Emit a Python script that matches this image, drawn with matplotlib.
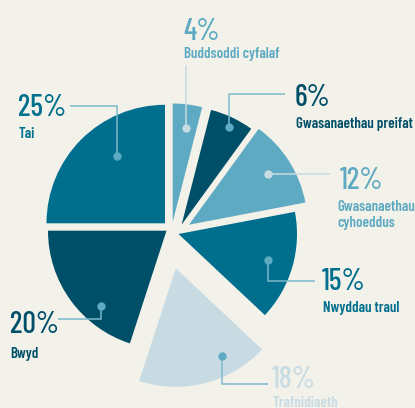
import numpy as np
import matplotlib
matplotlib.use('Agg')
import matplotlib.pyplot as plt
from matplotlib import font_manager

# data
shares = [4, 6, 12, 15, 18, 20, 25]
pct_labels = ['4%', '6%', '12%', '15%', '18%', '20%', '25%']
names = ['Buddsoddi cyfalaf', 'Gwasanaethau preifat', 'Gwasanaethau\ncyhoeddus',
         'Nwyddau traul', 'Trafnidiaeth', 'Bwyd', 'Tai']

# colours
bg = '#f3f2ea'
light = '#5eaac2'
dark = '#004f68'
mid = '#006f8d'
pale = '#c8dbe3'
leader = '#7db8cc'
slice_colors = [light, dark, light, mid, pale, dark, mid]
dot_colors = [pale, light, pale, light, light, light, light]
line_colors = [pale, leader, pale, leader, leader, leader, leader]

# layout, in image pixels (y measured downwards)
W, H = 415, 408
pie_center = (170, 227)
pie_radius = 118.5
slice_shift = [(2.7, -5), (11.6, -2.3), (19, -2.3), (8.5, 7), (5.8, 41.3), (-3.5, 3.7), (-5, -3.7)]
dot_pos = [(81.9, 95), (64.1, 108.6), (32.7, 93.9), (-16.2, 93.2), (-62.2, 99.1), (-131, 99.8), (125.5, 82.7)]
elbow_y = [65, 94, None, 281, 384, 319, 106]
end_x = [None, 285, 330, 315, 268, 58, 70]
pct_xy = [(183.5, 40), (295, 106), (340, 189), (321.5, 290), (271.5, 388.3), (10, 333.3), (18, 116.5)]
name_xy = [(183.5, 58.3), (296, 128.3), (337.5, 211), (322.5, 311.7), (273, 407), (10.5, 357.7), (18.5, 138.3)]
name_gap = 15.7

available = {f.name for f in font_manager.fontManager.ttflist}
family = 'DejaVu Sans'
for cand in ['Barlow Condensed', 'Roboto Condensed', 'Archivo Narrow', 'Asap Condensed']:
    if cand in available:
        family = cand
        break

fig = plt.figure(figsize=(W / 100, H / 100), dpi=100, facecolor=bg)
ax = fig.add_axes([0, 0, 1, 1])
ax.set_facecolor(bg)

cx, cy = pie_center[0], H - pie_center[1]
wedges, _ = ax.pie(shares, colors=slice_colors, startangle=90, counterclock=False,
                   radius=pie_radius, center=(cx, cy), wedgeprops=dict(linewidth=0))

for i, w in enumerate(wedges):
    dx, dy = slice_shift[i]
    w.set_center((cx + dx, cy - dy))
    vx, vy = cx + dx, cy - dy

    # dot inside the slice and its leader line
    ang, dist = dot_pos[i]
    px = vx + dist * np.cos(np.radians(ang))
    py = vy + dist * np.sin(np.radians(ang))
    xs, ys = [px], [py]
    if elbow_y[i] is not None:
        xs.append(px)
        ys.append(H - elbow_y[i])
    if end_x[i] is not None:
        xs.append(end_x[i])
        ys.append(ys[-1])
    ax.plot(xs, ys, color=line_colors[i], lw=1.1, solid_capstyle='butt', zorder=3)
    ax.plot(px, py, 'o', ms=6, color=dot_colors[i], mec='none', zorder=4)

    # labels
    ax.text(pct_xy[i][0], H - pct_xy[i][1], pct_labels[i], fontsize=21.5, family=family,
            weight='medium', color=slice_colors[i], ha='left', va='baseline')
    for j, line in enumerate(names[i].split('\n')):
        ax.text(name_xy[i][0], H - name_xy[i][1] - j * name_gap, line, fontsize=10.8,
                family=family, weight='semibold', color=slice_colors[i], ha='left', va='baseline')

ax.set_xlim(0, W)
ax.set_ylim(0, H)
ax.set_aspect('equal')
ax.axis('off')

fig.savefig('out.png', dpi=100, facecolor=bg)
